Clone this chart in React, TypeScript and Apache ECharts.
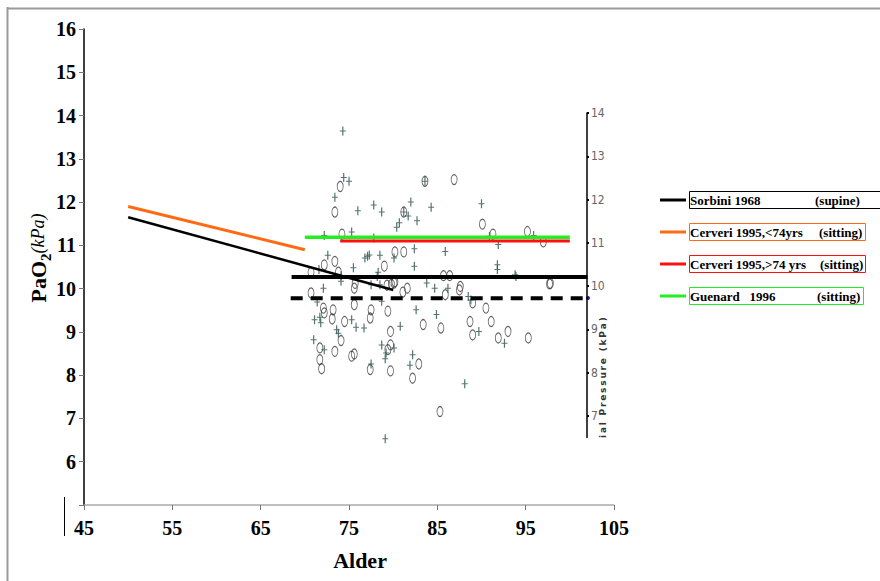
import React, { useEffect, useRef } from "react";
import * as echarts from "echarts";

const xTicks = { min: 45, max: 105, interval: 10 };
const yTicks = { min: 5, max: 16, interval: 1 };
const rightAxisLabels = [7, 8, 9, 10, 11, 12, 13, 14];

const circlePoints: [number, number][] = [
  [74.0, 12.36], [83.6, 12.48], [73.4, 11.77], [81.2, 11.77], [74.2, 11.26], [80.2, 10.85],
  [81.2, 10.85], [73.4, 10.63], [72.2, 10.55], [79.0, 10.52], [73.8, 10.38], [70.7, 10.38],
  [86.9, 12.52], [90.1, 11.49], [91.3, 11.26], [95.2, 11.32], [97.0, 11.08], [85.7, 10.3],
  [86.4, 10.3], [97.8, 10.12], [87.6, 10.05], [70.7, 9.9], [75.6, 10.01], [80.1, 10.13],
  [79.8, 10.1], [81.1, 9.92], [81.6, 10.01], [75.6, 9.63], [77.5, 9.51], [77.4, 9.32],
  [79.4, 9.48], [72.1, 9.55], [72.2, 9.44], [73.2, 9.51], [73.1, 9.3], [74.5, 9.24],
  [79.7, 9.01], [74.1, 8.8], [71.7, 8.63], [73.4, 8.55], [75.3, 8.44], [75.6, 8.49],
  [79.4, 8.59], [79.7, 8.7], [71.7, 8.36], [71.9, 8.15], [77.4, 8.13], [79.7, 8.1],
  [82.9, 8.26], [82.2, 7.93], [83.4, 9.17], [85.3, 7.16], [87.5, 9.97], [85.9, 9.86],
  [89.0, 9.67], [90.5, 9.55], [97.7, 10.11], [85.4, 9.09], [88.7, 9.24], [89.0, 8.93],
  [91.1, 9.24], [91.9, 8.86], [93.0, 9.01], [95.3, 8.86], [75.7, 10.12], [79.3, 10.08],
  [80.2, 10.16],
];

const plusPoints: [number, number][] = [
  [74.3, 13.64], [74.4, 12.57], [75.0, 12.48], [73.4, 12.11], [76.0, 11.8], [77.8, 11.93],
  [78.7, 11.77], [82.0, 12.0], [84.3, 11.88], [81.7, 11.68], [82.7, 11.57], [80.4, 11.42],
  [80.7, 11.52], [72.2, 11.23], [75.3, 11.31], [77.8, 11.17], [77.1, 10.75], [76.8, 10.71],
  [77.3, 10.78], [78.5, 10.77], [80.1, 10.71], [82.4, 10.92], [82.4, 10.52], [72.6, 10.77],
  [75.5, 10.48], [78.3, 10.38], [71.6, 10.44], [83.6, 12.48], [81.2, 11.77], [90.0, 11.96],
  [90.9, 11.21], [91.9, 11.02], [85.9, 10.86], [91.8, 10.55], [91.8, 10.44], [95.9, 11.23],
  [93.8, 10.32], [93.9, 10.28], [72.1, 10.01], [71.4, 9.69], [74.1, 10.17], [71.1, 9.28],
  [71.7, 9.34], [71.8, 9.21], [73.6, 9.05], [73.8, 8.97], [75.3, 9.28], [75.8, 9.11],
  [76.7, 9.09], [80.8, 9.13], [82.6, 9.51], [84.9, 9.4], [71.0, 8.82], [72.2, 8.59],
  [78.7, 8.7], [79.2, 8.51], [80.1, 8.63], [79.1, 8.38], [82.2, 8.47], [81.9, 8.23],
  [77.5, 8.26], [77.5, 10.09], [78.5, 10.09], [78.7, 9.71], [79.1, 6.53], [83.8, 10.13],
  [84.7, 10.01], [88.5, 9.82], [89.7, 9.01], [92.6, 8.74], [88.1, 7.8], [86.2, 10.01],
  [88.8, 9.74], [74.1, 10.3], [78.2, 10.28],
];

const sorbiniSlope: [number, number][] = [[50, 11.65], [80, 9.97]];
const cerveriYoung: [number, number][] = [[50, 11.9], [70, 10.9]];
const sorbiniLevel: [number, number][] = [[68.5, 10.27], [102, 10.27]];
const dashedLevel: [number, number][] = [[68.4, 9.78], [102, 9.78]];
const guenardLevel: [number, number][] = [[70, 11.19], [100, 11.19]];
const cerveriOld: [number, number][] = [[74, 11.1], [100, 11.1]];

const legendNames = ["Sorbini 1968", "Cerveri 1995,<74yrs", "Cerveri 1995,>74 yrs", "Guenard  1996"];
const legendTags = ["(supine)", "(sitting)", "(sitting)", "(sitting)"];
const legendColors = ["#000000", "#FF6A13", "#FF1010", "#22EE22"];
const rightAxisTitle = "ial Pressure (kPa)";

const SERIF = "'Times New Roman', 'Liberation Serif', serif";

export default function App() {
  const ref = useRef<HTMLDivElement>(null);
  useEffect(() => {
    if (!ref.current) return;
    const chart = echarts.init(ref.current, null, { renderer: "svg" });

    const legendBoxW = [200, 176, 176, 174];
    const legendTagX = [815, 819, 820, 817];
    const legendGraphics: any[] = [];
    legendNames.forEach((name, i) => {
      const cy = 200 + i * 32;
      legendGraphics.push({
        type: "line",
        shape: { x1: 660, y1: cy, x2: 686, y2: cy },
        style: { stroke: legendColors[i], lineWidth: 3 },
      });
      legendGraphics.push({
        type: "rect",
        shape: { x: 689.5, y: cy - 8.5, width: legendBoxW[i], height: 17 },
        style: { fill: "#fff", stroke: legendColors[i], lineWidth: 1 },
      });
      legendGraphics.push({
        type: "text",
        x: 690,
        y: cy,
        style: { text: name.replace(/  /g, "\u00a0\u00a0\u00a0"), fontFamily: SERIF, fontWeight: "bold", fontSize: 13, fill: "#000", verticalAlign: "middle" },
      });
      legendGraphics.push({
        type: "text",
        x: legendTagX[i],
        y: cy,
        style: { text: legendTags[i], fontFamily: SERIF, fontWeight: "bold", fontSize: 13, fill: "#000", verticalAlign: "middle" },
      });
    });

    const spacedTitle = rightAxisTitle.split("").join("\u2009");

    const option: any = {
      animation: false,
      grid: [
        { left: 84, top: 29, width: 530, height: 476 },
        { left: 587, top: 113, width: 1, height: 324.5 },
      ],
      xAxis: [
        {
          type: "value",
          gridIndex: 0,
          min: xTicks.min,
          max: xTicks.max,
          interval: xTicks.interval,
          axisLine: { show: true, lineStyle: { color: "#aaaaaa", width: 1.5 } },
          axisTick: { show: true, length: 5, lineStyle: { color: "#777" } },
          splitLine: { show: false },
          axisLabel: { color: "#000", fontFamily: SERIF, fontWeight: "bold", fontSize: 20, margin: 13 },
        },
        { type: "value", gridIndex: 1, min: 0, max: 1, show: false },
      ],
      yAxis: [
        {
          type: "value",
          gridIndex: 0,
          min: yTicks.min,
          max: yTicks.max,
          interval: yTicks.interval,
          axisLine: { show: true, lineStyle: { color: "#000", width: 1.5 } },
          axisTick: { show: true, length: 5, lineStyle: { color: "#777" } },
          splitLine: { show: false },
          axisLabel: {
            color: "#000",
            fontFamily: SERIF,
            fontWeight: "bold",
            fontSize: 20,
            margin: 8,
            formatter: (v: number) => (v === yTicks.min ? "" : String(v)),
          },
        },
        {
          type: "value",
          gridIndex: 1,
          min: 6.5,
          max: 14,
          axisLine: { show: true, lineStyle: { color: "#000", width: 1.5 } },
          axisTick: { show: true, inside: true, length: 2, customValues: rightAxisLabels, lineStyle: { color: "#000", width: 2 } },
          splitLine: { show: false },
          axisLabel: {
            inside: true,
            customValues: rightAxisLabels,
            color: "#666",
            fontFamily: "'Liberation Sans Narrow', 'DejaVu Sans Condensed', sans-serif",
            fontSize: 12,
            margin: 4,
          },
        },
      ],
      series: [
        {
          type: "scatter",
          data: circlePoints,
          symbol: "circle",
          symbolSize: [6, 10],
          itemStyle: { color: "rgba(0,0,0,0)", borderColor: "#3a3a3a", borderWidth: 1 },
          z: 2,
        },
        {
          type: "scatter",
          data: plusPoints,
          symbol: "path://M2,0H3V4H5V5H3V9H2V5H0V4H2Z",
          symbolSize: [6, 9],
          itemStyle: { color: "#2B5050" },
          z: 2,
        },
        { type: "line", data: sorbiniSlope, symbol: "none", lineStyle: { color: "#000", width: 2.5 }, z: 3 },
        { type: "line", data: cerveriYoung, symbol: "none", lineStyle: { color: legendColors[1], width: 3 }, z: 3 },
        { type: "line", data: sorbiniLevel, symbol: "none", lineStyle: { color: "#000", width: 4 }, z: 3 },
        { type: "line", data: dashedLevel, symbol: "none", lineStyle: { color: "#000", width: 4, type: [12, 8] }, z: 3 },
        { type: "line", data: guenardLevel, symbol: "none", lineStyle: { color: legendColors[3], width: 3.5 }, z: 3 },
        { type: "line", data: cerveriOld, symbol: "none", lineStyle: { color: legendColors[2], width: 3 }, z: 3 },
      ],
      graphic: [
        { type: "line", shape: { x1: 7.5, y1: 7, x2: 7.5, y2: 581 }, style: { stroke: "#999", lineWidth: 2 } },
        { type: "line", shape: { x1: 7, y1: 8.5, x2: 880, y2: 8.5 }, style: { stroke: "#999", lineWidth: 2 } },
        { type: "line", shape: { x1: 64.5, y1: 497, x2: 64.5, y2: 536 }, style: { stroke: "#000", lineWidth: 1 } },
        { type: "circle", shape: { cx: 588, cy: 298, r: 2 }, style: { fill: "#22228B" } },
        {
          type: "text",
          x: 38,
          y: 258,
          rotation: Math.PI / 2,
          style: {
            text: "{a|PaO}{s|2}{i|(kPa)}",
            align: "center",
            verticalAlign: "middle",
            fill: "#000",
            rich: {
              a: { fontFamily: SERIF, fontWeight: "bold", fontSize: 22, lineHeight: 30, verticalAlign: "middle" },
              s: { fontFamily: SERIF, fontWeight: "bold", fontSize: 15, verticalAlign: "bottom" },
              i: { fontFamily: SERIF, fontStyle: "italic", fontSize: 18, verticalAlign: "middle" },
            },
          },
        },
        {
          type: "text",
          x: 360,
          y: 560,
          style: { text: "Alder", fontFamily: SERIF, fontWeight: "bold", fontSize: 22, fill: "#000", align: "center", verticalAlign: "middle" },
        },
        {
          type: "text",
          x: 603,
          y: 438,
          rotation: Math.PI / 2,
          style: { text: spacedTitle, fontFamily: "'DejaVu Sans', sans-serif", fontWeight: "bold", fontSize: 9, fill: "#333", align: "left", verticalAlign: "middle" },
        },
        ...legendGraphics,
      ],
    };
    chart.setOption(option);
    return () => chart.dispose();
  }, []);
  return <div ref={ref} style={{ position: "fixed", left: 0, top: 0, width: 880, height: 581, background: "#fff" }} />;
}
